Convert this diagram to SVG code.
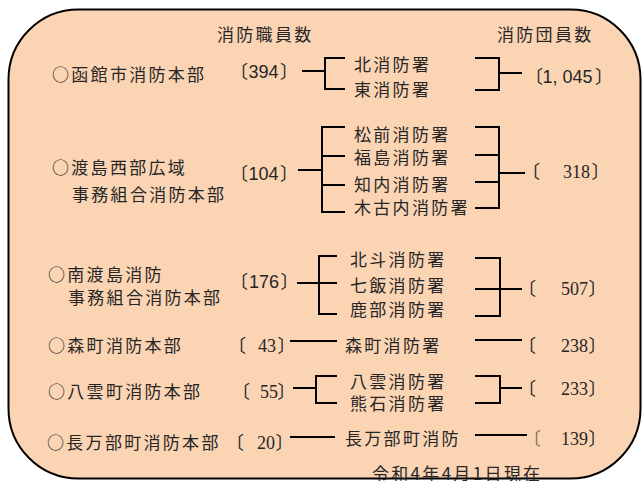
<svg xmlns="http://www.w3.org/2000/svg" width="644" height="481" viewBox="0 0 644 481">
<style>
.bg{fill:#FBD4B4;stroke:#000;stroke-width:2}
text{font-family:"Noto Sans CJK JP","Noto Sans CJK SC",sans-serif;font-size:17px;fill:#262626}
.j{letter-spacing:2.3px}
.ns{font-family:"Liberation Sans",Arial,sans-serif;font-size:18px}
.nr{font-family:"Liberation Serif","Times New Roman",serif;font-size:18px}
.br{font-size:18px;font-feature-settings:"halt"}
#connectors line,#connectors path{stroke:#000;stroke-width:2;fill:none}
</style>
<rect class="bg" x="8.5" y="9.5" width="632" height="469" rx="70" ry="70"/>
<g id="header-staff"><text class="j" x="217" y="41">消防職員数</text></g>
<g id="header-volunteer"><text class="j" x="497" y="41">消防団員数</text></g>

<g id="hq-hakodate"><text class="j" x="52" y="81">○函館市消防本部</text></g>
<g id="staff-hakodate"><text class="br" y="78"><tspan x="239">〔</tspan><tspan class="ns" x="248.5">394</tspan><tspan x="280">〕</tspan></text></g>
<g id="st-kita"><text class="j" x="354" y="71">北消防署</text></g>
<g id="st-higashi"><text class="j" x="354" y="96">東消防署</text></g>
<g id="vol-hakodate"><text class="br" y="83"><tspan x="534">〔</tspan><tspan class="ns" x="542.5 552.5 562.5 572.5 582.5">1,045</tspan><tspan x="595">〕</tspan></text></g>

<g id="hq-oshimanishibu"><text class="j" x="52" y="174">○渡島西部広域</text><text class="j" x="72" y="201">事務組合消防本部</text></g>
<g id="staff-oshimanishibu"><text class="br" y="180"><tspan x="239">〔</tspan><tspan class="ns" x="248.5">104</tspan><tspan x="280">〕</tspan></text></g>
<g id="st-matsumae"><text class="j" x="354" y="141">松前消防署</text></g>
<g id="st-fukushima"><text class="j" x="354" y="164">福島消防署</text></g>
<g id="st-shiriuchi"><text class="j" x="354" y="191">知内消防署</text></g>
<g id="st-kikonai"><text class="j" x="354" y="214">木古内消防署</text></g>
<g id="vol-oshimanishibu"><text class="br" y="178"><tspan x="531">〔</tspan><tspan class="nr" x="563">318</tspan><tspan x="591.5">〕</tspan></text></g>

<g id="hq-minamioshima"><text class="j" x="48" y="281">○南渡島消防</text><text class="j" x="68" y="304">事務組合消防本部</text></g>
<g id="staff-minamioshima"><text class="br" y="288"><tspan x="239">〔</tspan><tspan class="ns" x="249">176</tspan><tspan x="280.5">〕</tspan></text></g>
<g id="st-hokuto"><text class="j" x="350" y="266">北斗消防署</text></g>
<g id="st-nanae"><text class="j" x="350" y="292">七飯消防署</text></g>
<g id="st-shikabe"><text class="j" x="350" y="316">鹿部消防署</text></g>
<g id="vol-minamioshima"><text class="br" y="295"><tspan x="527">〔</tspan><tspan class="nr" x="561">507</tspan><tspan x="588.5">〕</tspan></text></g>

<g id="hq-mori"><text class="j" x="48" y="352">○森町消防本部</text></g>
<g id="staff-mori"><text class="br" y="352"><tspan x="237">〔</tspan><tspan class="nr" x="258">43</tspan><tspan x="277.5">〕</tspan></text></g>
<g id="st-mori"><text class="j" x="345" y="352">森町消防署</text></g>
<g id="vol-mori"><text class="br" y="352"><tspan x="527">〔</tspan><tspan class="nr" x="561">238</tspan><tspan x="588.5">〕</tspan></text></g>

<g id="hq-yakumo"><text class="j" x="48" y="398">○八雲町消防本部</text></g>
<g id="staff-yakumo"><text class="br" y="398"><tspan x="241">〔</tspan><tspan class="nr" x="260">55</tspan><tspan x="277.5">〕</tspan></text></g>
<g id="st-yakumo"><text class="j" x="350" y="388">八雲消防署</text></g>
<g id="st-kumaishi"><text class="j" x="350" y="410">熊石消防署</text></g>
<g id="vol-yakumo"><text class="br" y="395"><tspan x="527">〔</tspan><tspan class="nr" x="561">233</tspan><tspan x="588.5">〕</tspan></text></g>

<g id="hq-oshamambe"><text class="j" x="47" y="449">○長万部町消防本部</text></g>
<g id="staff-oshamambe"><text class="br" y="449"><tspan x="235">〔</tspan><tspan class="nr" x="257">20</tspan><tspan x="275.5">〕</tspan></text></g>
<g id="st-oshamambe"><text class="j" x="345" y="445">長万部町消防</text></g>
<g id="vol-oshamambe"><text class="br" y="445"><tspan x="532" fill-opacity="0.6">〔</tspan><tspan class="nr" x="561">139</tspan><tspan x="588.5">〕</tspan></text></g>

<g id="date-note"><text class="j" x="372" y="480">令和4年4月1日現在</text></g>

<g id="connectors">
<line x1="302" y1="71" x2="325" y2="71"/>
<path d="M345 58H325V89H345"/>
<path d="M475 58H499V90H475"/>
<line x1="499" y1="73" x2="522" y2="73"/>

<line x1="298" y1="170" x2="322" y2="170"/>
<path d="M345 127H322V212H345"/>
<line x1="322" y1="156" x2="345" y2="156"/>
<line x1="322" y1="185" x2="345" y2="185"/>
<path d="M475 127H499V208H475"/>
<line x1="475" y1="155" x2="499" y2="155"/>
<line x1="475" y1="182" x2="499" y2="182"/>
<line x1="499" y1="173" x2="525" y2="173"/>

<line x1="297" y1="283" x2="319" y2="283"/>
<path d="M337 256H319V314H337"/>
<line x1="319" y1="283" x2="337" y2="283"/>
<path d="M475 258H500V316H475"/>
<line x1="475" y1="289" x2="522" y2="289"/>

<line x1="290" y1="341" x2="337" y2="341"/>
<line x1="475" y1="340" x2="522" y2="340"/>

<line x1="293" y1="388" x2="316" y2="388"/>
<path d="M337 376H316V403H337"/>
<path d="M475 376H500V403H475"/>
<line x1="500" y1="388" x2="522" y2="388"/>

<line x1="290" y1="437" x2="335" y2="437"/>
<line x1="475" y1="435" x2="527" y2="435"/>
</g>
</svg>
